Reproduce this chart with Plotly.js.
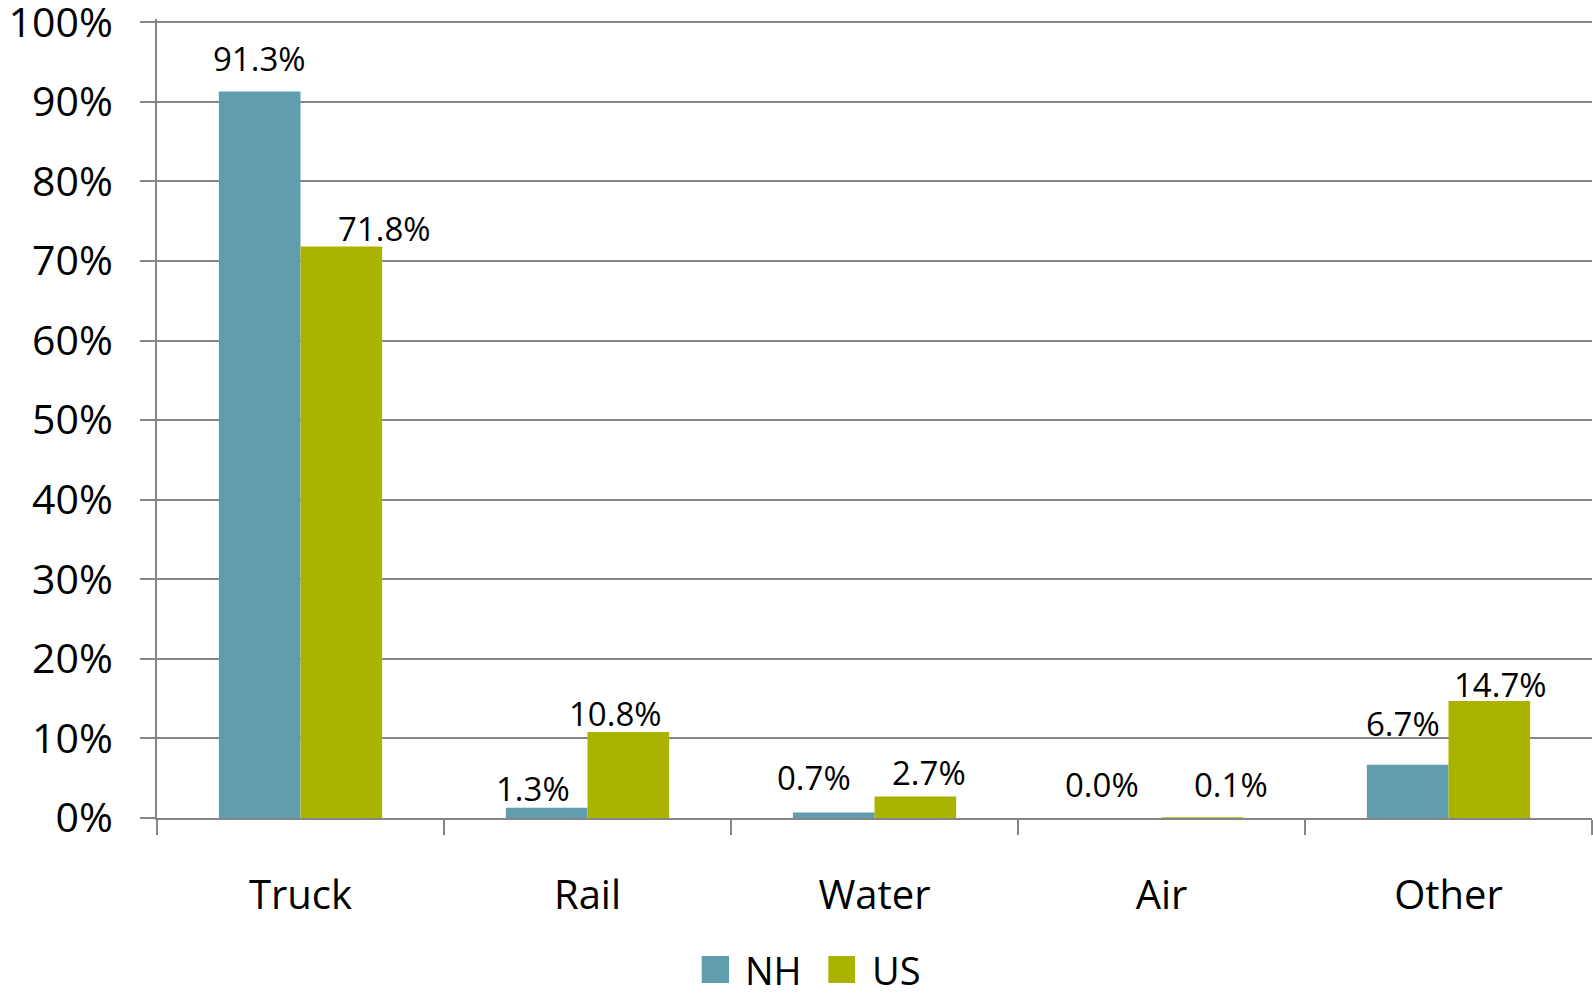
<!DOCTYPE html>
<html><head><meta charset="utf-8">
<script src="https://cdn.plot.ly/plotly-3.0.1.min.js"></script>
<style>html,body{margin:0;padding:0;background:#fff;}#chart{width:1593px;height:995px;}</style>
</head><body><div id="chart"></div>
<script>
const categories = ["Truck", "Rail", "Water", "Air", "Other"];
const nhValues = [0.913, 0.013, 0.007, 0.000, 0.067];
const usValues = [0.718, 0.108, 0.027, 0.001, 0.147];
const yTickVals = [0, 0.1, 0.2, 0.3, 0.4, 0.5, 0.6, 0.7, 0.8, 0.9, 1.0];
const yTickText = ["0%", "10%", "20%", "30%", "40%", "50%", "60%", "70%", "80%", "90%", "100%"];

// label placement offsets (px) relative to category centre / bar top
const nhLabelDx = [-41.5, -55, -60.5, -59.4, -45.3];
const nhLabelDy = [32.7, 19.6, 34.5, 33.6, 41.3];
const usLabelDx = [83.7, 27.7, 54, 69.6, 51.5];
const usLabelDy = [18.6, 18.6, 23.9, 33, 16.5];

const NH_COLOR = "#609DAF";
const US_COLOR = "#AAB400";
const fontFam = "'Open Sans', 'Noto Sans', sans-serif";
const fmt = v => (v * 100).toFixed(1) + "%";

const traces = [
  {type: "bar", name: "NH", x: categories, y: nhValues, marker: {color: NH_COLOR}, showlegend: false},
  {type: "bar", name: "US", x: categories, y: usValues, marker: {color: US_COLOR}, showlegend: false}
];

const labelFont = {family: fontFam, size: 33, color: "#000"};
const annotations = [];
categories.forEach((c, i) => {
  annotations.push({x: c, y: nhValues[i], xref: "x", yref: "y", text: fmt(nhValues[i]),
    showarrow: false, xanchor: "center", yanchor: "middle",
    xshift: nhLabelDx[i], yshift: nhLabelDy[i], font: labelFont});
  annotations.push({x: c, y: usValues[i], xref: "x", yref: "y", text: fmt(usValues[i]),
    showarrow: false, xanchor: "center", yanchor: "middle",
    xshift: usLabelDx[i], yshift: usLabelDy[i], font: labelFont});
});

// manual legend (plot area: x 157..1592, y 19..818)
const PH = 799;
const py = p => (818 - p) / PH;
const px = p => (p - 157) / 1435;
const legendFont = {family: fontFam, size: 38, color: "#000"};
annotations.push({xref: "paper", yref: "paper", x: px(743), y: py(969.5), text: "NH",
  showarrow: false, xanchor: "left", yanchor: "middle", font: legendFont});
annotations.push({xref: "paper", yref: "paper", x: px(870), y: py(969.5), text: "US",
  showarrow: false, xanchor: "left", yanchor: "middle", font: legendFont});
const shapes = [
  {type: "rect", xref: "paper", yref: "paper", x0: px(701.7), x1: px(729), y0: py(983), y1: py(956),
   fillcolor: NH_COLOR, line: {width: 0}},
  {type: "rect", xref: "paper", yref: "paper", x0: px(828.3), x1: px(855), y0: py(983), y1: py(956),
   fillcolor: US_COLOR, line: {width: 0}}
];

const layout = {
  width: 1593, height: 995,
  margin: {l: 157, r: 1, t: 19, b: 177, autoexpand: false},
  paper_bgcolor: "#fff", plot_bgcolor: "#fff",
  barmode: "group", bargap: 0.431, bargroupgap: 0,
  font: {family: fontFam, color: "#000"},
  showlegend: false,
  xaxis: {
    type: "category", showgrid: false, showline: true, linecolor: "#868686", linewidth: 2,
    ticks: "outside", tickson: "boundaries", ticklen: 15, tickcolor: "#868686", tickwidth: 2,
    tickfont: {family: fontFam, size: 40, color: "#000"}, ticklabelstandoff: 41,
    zeroline: false
  },
  yaxis: {
    range: [0, 1.004], tickvals: yTickVals, ticktext: yTickText,
    showgrid: true, gridcolor: "#868686", gridwidth: 2,
    showline: true, linecolor: "#868686", linewidth: 2,
    ticks: "outside", ticklen: 15, tickcolor: "#868686", tickwidth: 2,
    tickfont: {family: fontFam, size: 41, color: "#000"}, ticklabelstandoff: 19,
    ticklabeloverflow: "allow", zeroline: false
  },
  annotations: annotations,
  shapes: shapes
};

Plotly.newPlot("chart", traces, layout, {displayModeBar: false, staticPlot: true});
</script></body></html>
